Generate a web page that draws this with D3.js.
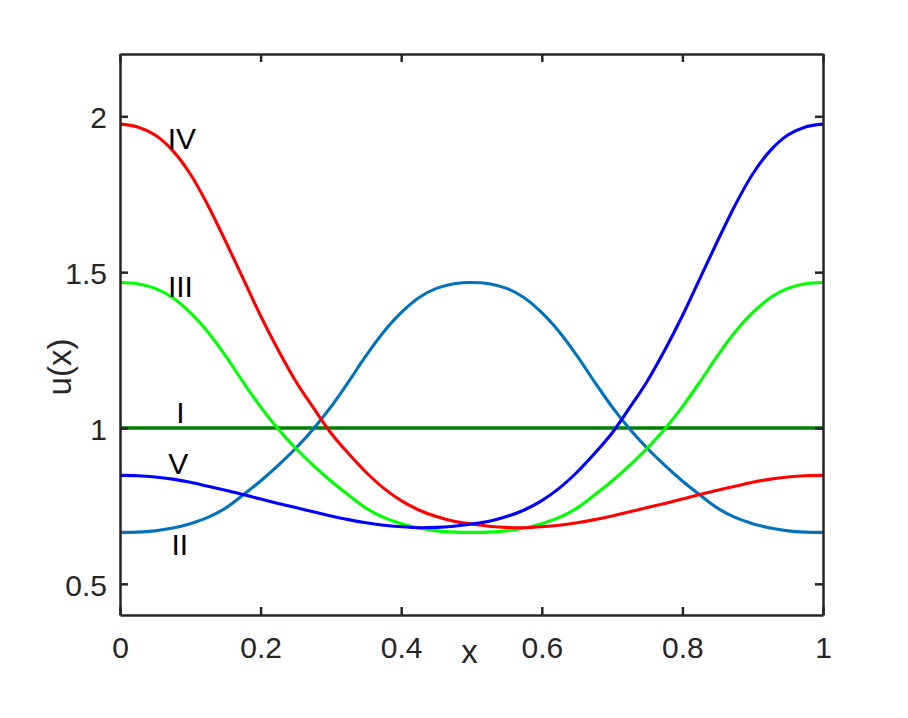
<!DOCTYPE html>
<html>
<head>
<meta charset="utf-8">
<script src="https://cdn.jsdelivr.net/npm/d3@7"></script>
<style>
  html, body { margin: 0; padding: 0; background: #fff; }
  svg { display: block; }
  text { font-family: "Liberation Sans", Arial, Helvetica, sans-serif; }
</style>
</head>
<body>
<svg id="chart" width="908" height="718"></svg>
<script>
// ---- data ----
const xValues = [0, 0.025, 0.05, 0.075, 0.1, 0.125, 0.15, 0.175, 0.2, 0.225, 0.25, 0.275, 0.3, 0.325, 0.35, 0.375, 0.4, 0.425, 0.45, 0.475, 0.5,
                 0.525, 0.55, 0.575, 0.6, 0.625, 0.65, 0.675, 0.7, 0.725, 0.75, 0.775, 0.8, 0.825, 0.85, 0.875, 0.9, 0.925, 0.95, 0.975, 1];

const seriesI = [1, 1, 1, 1, 1, 1, 1, 1, 1, 1, 1, 1, 1, 1, 1, 1, 1, 1, 1, 1, 1,
                 1, 1, 1, 1, 1, 1, 1, 1, 1, 1, 1, 1, 1, 1, 1, 1, 1, 1, 1, 1];

const seriesII = [0.665, 0.666, 0.670, 0.679, 0.693, 0.713, 0.743, 0.785, 0.830, 0.880, 0.935, 0.997, 1.068, 1.148, 1.232, 1.308, 1.370, 1.418, 1.448, 1.463, 1.467,
                  1.463, 1.448, 1.418, 1.370, 1.308, 1.232, 1.148, 1.068, 0.997, 0.935, 0.880, 0.830, 0.785, 0.743, 0.713, 0.693, 0.679, 0.670, 0.666, 0.665];

const seriesIII = [1.467, 1.463, 1.448, 1.418, 1.370, 1.308, 1.232, 1.148, 1.068, 0.997, 0.935, 0.880, 0.830, 0.785, 0.743, 0.713, 0.693, 0.679, 0.670, 0.666, 0.665,
                   0.666, 0.670, 0.679, 0.693, 0.713, 0.743, 0.785, 0.830, 0.880, 0.935, 0.997, 1.068, 1.148, 1.232, 1.308, 1.370, 1.418, 1.448, 1.463, 1.467];

const seriesIV = [1.975, 1.966, 1.940, 1.890, 1.815, 1.715, 1.600, 1.480, 1.360, 1.250, 1.150, 1.065, 0.984, 0.918, 0.858, 0.807, 0.767, 0.737, 0.716, 0.701, 0.692,
                  0.685, 0.681, 0.680, 0.683, 0.688, 0.696, 0.706, 0.718, 0.731, 0.745, 0.758, 0.772, 0.787, 0.800, 0.813, 0.826, 0.836, 0.843, 0.847, 0.848];

const seriesV = [0.848, 0.847, 0.843, 0.836, 0.826, 0.813, 0.800, 0.787, 0.772, 0.758, 0.745, 0.731, 0.718, 0.706, 0.696, 0.688, 0.683, 0.680, 0.681, 0.685, 0.692,
                 0.701, 0.716, 0.737, 0.767, 0.807, 0.858, 0.918, 0.984, 1.065, 1.150, 1.250, 1.360, 1.480, 1.600, 1.715, 1.815, 1.890, 1.940, 1.966, 1.975];

const seriesNames  = ["I", "II", "III", "IV", "V"];
const seriesColors = ["#008000", "#0072BD", "#00FF00", "#FF0000", "#0000FF"];
const seriesData   = [seriesI, seriesII, seriesIII, seriesIV, seriesV];

// curve labels: text and anchor in data coordinates
const labelTexts = ["IV", "III", "I", "V", "II"];
const labelX     = [0.088, 0.086, 0.086, 0.083, 0.085];
const labelY     = [1.895, 1.421, 1.017, 0.851, 0.593];

const xTickValues = [0, 0.2, 0.4, 0.6, 0.8, 1];
const xTickLabels = ["0", "0.2", "0.4", "0.6", "0.8", "1"];
const yTickValues = [0.5, 1, 1.5, 2];
const yTickLabels = ["0.5", "1", "1.5", "2"];

// ---- layout ----
const svg = d3.select("#chart");
const mLeft = 120, mRight = 823, mTop = 54, mBottom = 615;
const axisColor = "#262626";

const x = d3.scaleLinear().domain([0, 1]).range([mLeft, mRight]);
const y = d3.scaleLinear().domain([0.4, 2.2]).range([mBottom, mTop]);

// ---- lines ----
const line = d3.line()
  .x(d => x(d[0]))
  .y(d => y(d[1]))
  .curve(d3.curveCatmullRom.alpha(0.5));

const plot = svg.append("g");
seriesData.forEach((vals, i) => {
  const pts = xValues.map((xv, j) => [xv, vals[j]]);
  plot.append("path")
    .datum(pts)
    .attr("fill", "none")
    .attr("stroke", seriesColors[i])
    .attr("stroke-width", i === 0 ? 3.4 : 3.1)
    .attr("stroke-linejoin", "round")
    .attr("d", line);
});

// ---- axes ----
function styleAxis(g) {
  g.selectAll("path.domain").attr("stroke", axisColor).attr("stroke-width", 2.5);
  g.selectAll(".tick line").attr("stroke", axisColor).attr("stroke-width", 2.5);
  g.selectAll("text").attr("fill", axisColor).style("font-size", "30px")
    .style("font-family", '"Liberation Sans", Arial, Helvetica, sans-serif');
}

svg.append("g")
  .attr("transform", `translate(0,${mBottom})`)
  .call(d3.axisBottom(x).tickValues(xTickValues)
    .tickFormat((d, i) => xTickLabels[i])
    .tickSizeInner(-8).tickSizeOuter(0).tickPadding(22))
  .call(styleAxis);

svg.append("g")
  .attr("transform", `translate(0,${mTop})`)
  .call(d3.axisTop(x).tickValues(xTickValues).tickFormat("")
    .tickSizeInner(-8).tickSizeOuter(0))
  .call(styleAxis);

const yAxisG = svg.append("g")
  .attr("transform", `translate(${mLeft},0)`)
  .call(d3.axisLeft(y).tickValues(yTickValues)
    .tickFormat((d, i) => yTickLabels[i])
    .tickSizeInner(-8).tickSizeOuter(0).tickPadding(13))
  .call(styleAxis);
yAxisG.selectAll("text").attr("dy", "0.38em");

svg.append("g")
  .attr("transform", `translate(${mRight},0)`)
  .call(d3.axisRight(y).tickValues(yTickValues).tickFormat("")
    .tickSizeInner(-8).tickSizeOuter(0))
  .call(styleAxis);

// ---- axis labels ----
svg.append("text")
  .attr("x", x(0.5) - 2)
  .attr("y", 663)
  .attr("text-anchor", "middle")
  .attr("fill", axisColor)
  .style("font-size", "33px")
  .text("x");

svg.append("text")
  .attr("transform", "translate(71,367) rotate(-90)")
  .attr("text-anchor", "middle")
  .attr("fill", axisColor)
  .style("font-size", "33px")
  .text("u(x)");

// ---- curve labels ----
labelTexts.forEach((t, i) => {
  svg.append("text")
    .attr("x", x(labelX[i]))
    .attr("y", y(labelY[i]))
    .attr("text-anchor", "middle")
    .attr("fill", "#000")
    .style("font-size", "30px")
    .text(t);
});
</script>
</body>
</html>
